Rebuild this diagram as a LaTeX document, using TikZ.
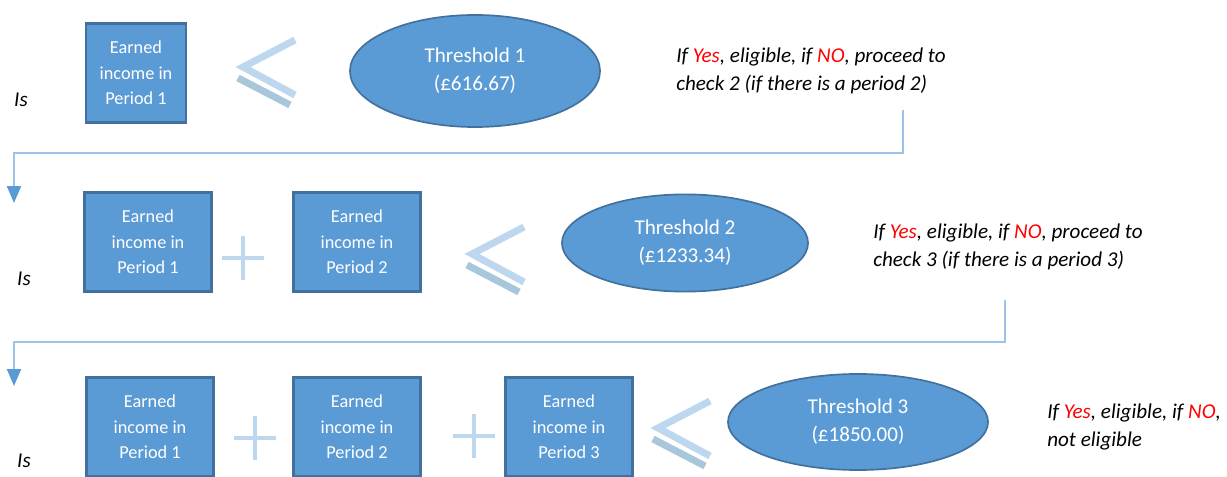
\documentclass[tikz,border=0pt]{standalone}
\usepackage{fontspec}
\setmainfont{Carlito}
\usetikzlibrary{positioning}
\usetikzlibrary{shapes.geometric}
\usetikzlibrary{arrows.meta}

\definecolor{boxfill}{HTML}{5B9BD5}
\definecolor{boxline}{HTML}{41719C}
\definecolor{signblue}{HTML}{BDD7EE}
\definecolor{signbar}{HTML}{A9C7DB}
\definecolor{flowline}{HTML}{9DC3E6}

\tikzset{
  income/.style={draw=boxline, fill=boxfill, line width=1.5pt, text=white, align=center,
    minimum width=3.175cm, minimum height=2.475cm, inner sep=0pt, font=\fontsize{13}{18}\selectfont},
  threshold/.style={ellipse, draw=boxline, fill=boxfill, line width=1.2pt, text=white, align=center,
    inner sep=0pt, font=\fontsize{15}{20}\selectfont},
  note/.style={anchor=west, align=left, inner sep=0pt, font=\itshape\fontsize{15}{20}\selectfont},
  islabel/.style={inner sep=0pt, font=\itshape\fontsize{15}{17}\selectfont},
  plussign/.style={signblue, line width=3.5pt},
  leqarm/.style={signblue, line width=5pt},
  leqbar/.style={signbar, line width=5pt},
  flow/.style={flowline, line width=1.2pt, -{Triangle[width=10pt, length=12pt, color=boxfill]}},
}

\begin{document}
\begin{tikzpicture}[x=0.025cm, y=-0.025cm]
  \useasboundingbox (0,0) rectangle (1227,477);

  % Check 1
  \node[islabel] (is1) at (21,100) {Is};
  \node[income, minimum width=2.5cm] (e11) at (136,73) {Earned\\income in\\Period 1};
  \coordinate (lt1) at (243,67);
  \node[threshold, minimum width=6.25cm, minimum height=2.8cm] (th1) at (475,71) {Threshold 1\\(£616.67)};
  \node[note] (n1) at (676,71) {If \textcolor{red}{Yes}, eligible, if \textcolor{red}{NO}, proceed to\\check 2 (if there is a period 2)};

  % Check 2
  \node[islabel] (is2) at (24,279) {Is};
  \node[income] (e21) at (148,242) {Earned\\income in\\Period 1};
  \coordinate (pl21) at (243,258);
  \node[income] (e22) at (357,242) {Earned\\income in\\Period 2};
  \coordinate (lt2) at (472,254);
  \node[threshold, minimum width=6.15cm, minimum height=2.43cm] (th2) at (685,243) {Threshold 2\\(£1233.34)};
  \node[note] (n2) at (873,247) {If \textcolor{red}{Yes}, eligible, if \textcolor{red}{NO}, proceed to\\check 3 (if there is a period 3)};

  % Check 3
  \node[islabel] (is3) at (24,461) {Is};
  \node[income] (e31) at (150,427) {Earned\\income in\\Period 1};
  \coordinate (pl31) at (255,438);
  \node[income] (e32) at (357,427) {Earned\\income in\\Period 2};
  \coordinate (pl32) at (474,436);
  \node[income] (e33) at (569,427) {Earned\\income in\\Period 3};
  \coordinate (lt3) at (658,428);
  \node[threshold, minimum width=6.5cm, minimum height=2.4cm] (th3) at (858,422) {Threshold 3\\(£1850.00)};
  \node[note] (n3) at (1047,427) {If \textcolor{red}{Yes}, eligible, if \textcolor{red}{NO},\\not eligible};

  % Signs
  \foreach \p in {pl21,pl31,pl32}
    \draw[plussign] (\p) ++(-21,0) -- ++(42,0) (\p) ++(0,-22) -- ++(0,44);
  \foreach \t in {lt1,lt2,lt3} {
    \draw[leqarm] (\t) ++(52,-27) -- (\t) -- ++(52,28);
    \draw[leqbar] (\t) ++(-5,11) -- ++(52,27);
  }

  % Flow between checks
  \coordinate (f1) at (903,110);
  \coordinate (a1) at (14,203);
  \draw[flow] (f1) -- ++(0,43) -| (a1);
  \coordinate (f2) at (1005,300);
  \coordinate (a2) at (14,386);
  \draw[flow] (f2) -- ++(0,42) -| (a2);
\end{tikzpicture}
\end{document}
